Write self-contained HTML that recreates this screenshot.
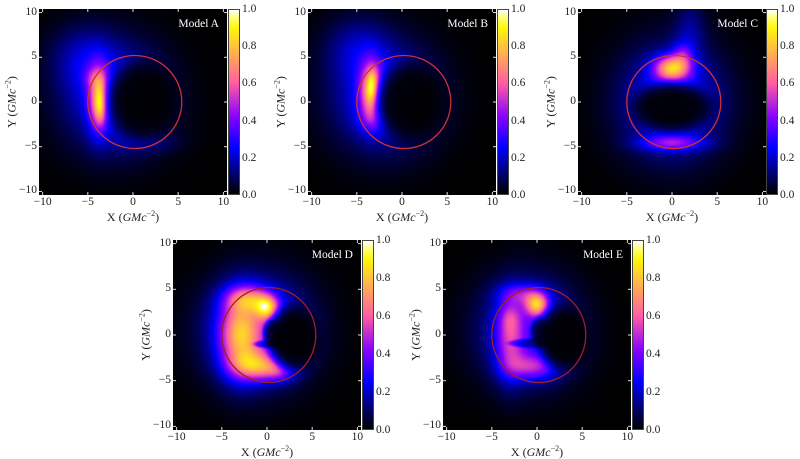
<!DOCTYPE html>
<html><head><meta charset="utf-8"><style>
body{margin:0;background:#fff;width:800px;height:458px;overflow:hidden;position:relative;font-family:"Liberation Serif",serif;}
.abs{position:absolute}
.tk{position:absolute;font-size:11.5px;color:#222;line-height:1;white-space:nowrap}
.ttl{position:absolute;font-size:12px;color:#222;white-space:nowrap;line-height:1}
.model{position:absolute;color:#fff;font-size:11.5px;white-space:nowrap;line-height:1}
</style></head><body>
<script>
// ---- data ----
const modelNames = ["Model A","Model B","Model C","Model D","Model E"];
const xTicks = [-10,-5,0,5,10];
const yTicks = [10,5,0,-5,-10];
const cbTicks = [1.0,0.8,0.6,0.4,0.2,0.0];
// blobs: [x, y, sx, sy, amplitude]
const blobsA = [[-2,0.5,3.8,4.0,0.3],[-5.5,5,2.5,2.5,0.14],[-3.8,0.3,0.8,2.6,0.42],[-3.6,-0.2,0.45,1.5,0.3],[-4.3,2.6,0.8,0.8,0.12],[1.5,-4.5,2.5,0.8,0.08]];
const blobsB = [[-2,0.5,3.8,4.0,0.3],[-5,6,2.5,2.5,0.14],[-3.4,1.2,0.9,2.3,0.47],[-3.3,1.5,0.45,1.4,0.3],[-3,-2,1.3,1,0.12]];
const blobsC = [[0,0,3.8,4.2,0.32],[2,8,1.2,2.5,0.12],[0,3.8,1.4,1,0.62],[1.2,5.3,0.8,1,0.2],[0,-4.6,2.5,0.6,0.3]];
const blobsD = [[-1,0.5,3.8,3.8,0.36],[-3,0,1.6,3,0.52],[0,3,0.9,0.9,0.52],[-1,-3.4,2,1.1,0.47],[-2,4,1.8,1,0.38],[1.5,-4,1.3,0.8,0.22]];
const blobsE = [[-1,0.5,3.6,3.8,0.3],[-3,-0.5,1.1,3,0.32],[0,3.3,0.9,0.9,0.57],[-0.5,-3.5,2,1,0.34],[-1.5,4.5,1.8,0.8,0.25],[-3,2,0.8,1,0.12]];
// shadows: [cx, cy, rx, ry, depth]
const shadowA = [[1.1,0.2,4.1,4.6,0.97]];
const shadowB = [[1.1,0,4.1,4.6,0.97]];
const shadowC = [[0,-0.6,4.6,2.8,0.97]];
const shadowD = [[3.0,-0.3,2.9,3.6,0.97],[0.6,0.2,1.0,1.5,0.7],[0.5,-1.0,2.0,0.45,0.5]];
const shadowE = [[3.0,-0.3,2.9,3.6,0.97],[0.3,0.3,1.0,1.6,0.7],[-0.5,-0.9,2.6,0.5,0.5]];
const allBlobs=[blobsA,blobsB,blobsC,blobsD,blobsE];
const allShadows=[shadowA,shadowB,shadowC,shadowD,shadowE];
const panels=[
 {px:39,py:9,w:188,h:186,cb:228},
 {px:308,py:9,w:188,h:186,cb:497},
 {px:578,py:9,w:188,h:186,cb:766},
 {px:173,py:240,w:188,h:190,cb:362},
 {px:443,py:240,w:188,h:190,cb:632}];
const stops=[[0,0,0,0],[0.25,0,0,255],[0.42,135,0,255],[0.6,255,92,163],[0.8,255,194,61],[0.92,255,255,0],[1,255,255,255]];
function cmap(v){v=Math.max(0,Math.min(1,v));for(let i=1;i<stops.length;i++){if(v<=stops[i][0]){const a=stops[i-1],b=stops[i],t=(v-a[0])/(b[0]-a[0]);return [a[1]+t*(b[1]-a[1]),a[2]+t*(b[2]-a[2]),a[3]+t*(b[3]-a[3])];}}return [255,255,255];}
const R=10.4;
function make(tag,name,inter){const e=document.createElement(tag);


return e;}
panels.forEach((p,i)=>{
 const letter=modelNames[i].slice(-1).toLowerCase();
 const sx=x=>p.px+(x+R)/(2*R)*p.w, sy=y=>p.py+(R-y)/(2*R)*p.h;
 const cv=make('canvas','heatmap-model-'+letter,false);
 cv.width=p.w;cv.height=p.h;cv.className='abs';cv.style.left=p.px+'px';cv.style.top=p.py+'px';
 document.body.appendChild(cv);
 const ctx=cv.getContext('2d');const img=ctx.createImageData(p.w,p.h);
 for(let j=0;j<p.h;j++)for(let k=0;k<p.w;k++){
  const x=-R+(k+0.5)/p.w*2*R, y=R-(j+0.5)/p.h*2*R;
  let v=0;allBlobs[i].forEach(b=>{const dx=(x-b[0])/b[2],dy=(y-b[1])/b[3];v+=b[4]*Math.exp(-0.5*(dx*dx+dy*dy));});
  allShadows[i].forEach(s=>{const dx=(x-s[0])/s[2],dy=(y-s[1])/s[3];const d=dx*dx+dy*dy;v*=1-s[4]*Math.exp(-d*d*d);});
  const c=cmap(v);const o=(j*p.w+k)*4;img.data[o]=c[0];img.data[o+1]=c[1];img.data[o+2]=c[2];img.data[o+3]=255;}
 ctx.putImageData(img,0,0);
 const ns='http://www.w3.org/2000/svg';
 const svg=document.createElementNS(ns,'svg');svg.setAttribute('width',800);svg.setAttribute('height',458);
 svg.setAttribute('class','abs');svg.style.left='0';svg.style.top='0';
 
 
 document.body.appendChild(svg);
 const ring=document.createElementNS(ns,'ellipse');
 ring.setAttribute('cx',sx(0.2));ring.setAttribute('cy',sy(0));ring.setAttribute('rx',5.2/(2*R)*p.w);ring.setAttribute('ry',5.2/(2*R)*p.h);
 ring.setAttribute('fill','none');ring.setAttribute('stroke',i>=3?'#a02020':'#d03030');ring.setAttribute('stroke-width','1.3');
 
 
 svg.appendChild(ring);
 xTicks.forEach(t=>{[[sx(t),p.py+p.h,sx(t),p.py+p.h-3],[sx(t),p.py,sx(t),p.py+3]].forEach(l=>{const ln=document.createElementNS(ns,'line');ln.setAttribute('x1',l[0]);ln.setAttribute('y1',l[1]);ln.setAttribute('x2',l[2]);ln.setAttribute('y2',l[3]);ln.setAttribute('stroke','#ddd');
 
 
 svg.appendChild(ln);});});
 yTicks.forEach(t=>{[[p.px,sy(t),p.px+3,sy(t)],[p.px+p.w,sy(t),p.px+p.w-3,sy(t)]].forEach(l=>{const ln=document.createElementNS(ns,'line');ln.setAttribute('x1',l[0]);ln.setAttribute('y1',l[1]);ln.setAttribute('x2',l[2]);ln.setAttribute('y2',l[3]);ln.setAttribute('stroke','#ddd');
 
 
 svg.appendChild(ln);});});
 const cb=make('div','colorbar-model-'+letter,false);cb.className='abs';
 let g=[];for(let q=0;q<=20;q++){const c=cmap(1-q/20);g.push(`rgb(${c.map(Math.round).join(',')}) ${q*5}%`);}
 Object.assign(cb.style,{left:p.cb+'px',top:p.py+'px',width:'12px',height:p.h+'px',background:'linear-gradient('+g.join(',')+')',boxSizing:'border-box',border:'0.5px solid #444'});
 document.body.appendChild(cb);
 cbTicks.forEach(t=>{const l=make('div','colorbar-tick-label',false);l.className='tk';l.textContent=t.toFixed(1);
 l.style.left=(p.cb+14)+'px';l.style.top=(p.py+(1-t)*p.h-5)+'px';document.body.appendChild(l);});
 xTicks.forEach(t=>{const l=make('div','x-tick-label',false);l.className='tk';l.textContent=String(t).replace('-','\u2212');
 l.style.left=sx(t)+'px';l.style.top=(p.py+p.h+2)+'px';l.style.transform='translateX(-50%)';document.body.appendChild(l);});
 yTicks.forEach(t=>{const l=make('div','y-tick-label',false);l.className='tk';l.textContent=String(t).replace('-','\u2212');
 l.style.right=(800-p.px+2)+'px';l.style.top=(sy(t)-6)+'px';document.body.appendChild(l);});
 const xt=make('div','x-axis-title',false);xt.className='ttl';xt.innerHTML='X (<i>GMc</i><sup style="font-size:8px">\u22122</sup>)';
 xt.style.left=(p.px+p.w/2)+'px';xt.style.top=(p.py+p.h+15)+'px';xt.style.transform='translateX(-50%)';document.body.appendChild(xt);
 const yt=make('div','y-axis-title',false);yt.className='ttl';yt.innerHTML='Y (<i>GMc</i><sup style="font-size:8px">\u22122</sup>)';
 yt.style.left=(p.px-28)+'px';yt.style.top=(p.py+p.h/2)+'px';yt.style.transform='translate(-50%,-50%) rotate(-90deg)';document.body.appendChild(yt);
 const m=make('div','model-label',false);m.className='model';m.textContent=modelNames[i];
 m.style.right=(800-p.px-p.w+8)+'px';m.style.top=(p.py+10)+'px';document.body.appendChild(m);
});
</script>
</body></html>
